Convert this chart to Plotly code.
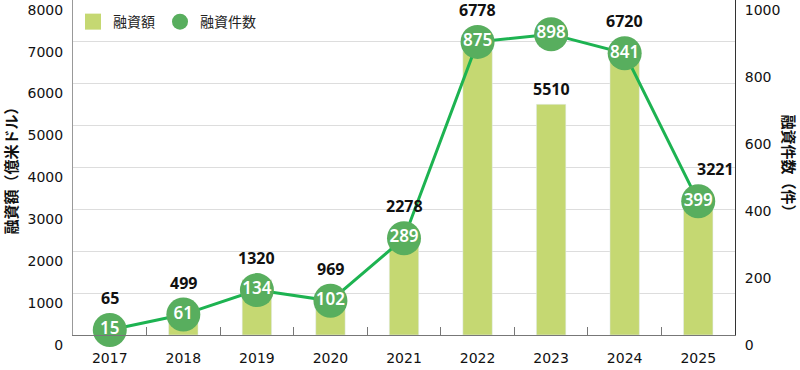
import plotly.graph_objects as go

years = ["2017", "2018", "2019", "2020", "2021", "2022", "2023", "2024", "2025"]
amount = [65, 499, 1320, 969, 2278, 6778, 5510, 6720, 3221]   # 融資額（億米ドル）
count = [15, 61, 134, 102, 289, 875, 898, 841, 399]           # 融資件数（件）
left_ticks = [0, 1000, 2000, 3000, 4000, 5000, 6000, 7000, 8000]
right_ticks = [0, 200, 400, 600, 800, 1000]

BAR_C = "#c5d872"
DOT_C = "#58ae5e"
LINE_C = "#1db351"
TICK_FONT = dict(family="DejaVu Sans", size=14, color="#111111")

fig = go.Figure()
fig.add_trace(go.Bar(x=years, y=amount, marker_color=BAR_C, width=0.4,
                     showlegend=False, hoverinfo="skip"))
fig.add_trace(go.Scatter(x=years, y=count, yaxis="y2", mode="lines+markers+text",
                         line=dict(color=LINE_C, width=3),
                         marker=dict(size=34, color=DOT_C),
                         text=[str(c) for c in count], textposition="middle center",
                         textfont=dict(family="Noto Sans", size=17, color="white", weight=600),
                         showlegend=False, cliponaxis=False))
# legend entries
fig.add_trace(go.Scatter(x=[years[0]], y=[None], mode="markers", name="融資額",
                         marker=dict(symbol="square", size=16, color=BAR_C)))
fig.add_trace(go.Scatter(x=[years[0]], y=[None], mode="markers", name="融資件数",
                         marker=dict(symbol="circle", size=16, color=DOT_C)))

# bar value labels: above the bar, or above the circle when the circle is in the way;
# nudged right when the incoming line would cross the label
ratio = left_ticks[-1] / right_ticks[-1]
px_units = left_ticks[-1] / 335
radius_units = 17 * px_units
label_units = 30 * px_units
for i, (a, c) in enumerate(zip(amount, count)):
    cy = c * ratio
    if cy - radius_units > a + label_units:
        top = a
    else:
        top = max(a, cy + radius_units)
    xshift = 0
    if i > 0:
        line_y = cy + (count[i - 1] * ratio - cy) * 0.26
        if top <= line_y <= top + label_units:
            xshift = 17
    fig.add_annotation(x=i, y=top, xref="x", yref="y", text=str(a), showarrow=False,
                       yanchor="middle", yshift=15, xshift=xshift,
                       font=dict(family="Noto Sans", size=16, color="#111111", weight=700))

fig.add_annotation(xref="paper", yref="paper", x=-0.095, y=0.5, text="融資額（億米ドル）",
                   textangle=-90, showarrow=False, xanchor="center", yanchor="middle",
                   font=dict(family="Noto Sans CJK JP", size=15, color="#111111", weight=700))
fig.add_annotation(xref="paper", yref="paper", x=1.083, y=0.5, text="融資件数（件）",
                   textangle=90, showarrow=False, xanchor="center", yanchor="middle",
                   font=dict(family="Noto Sans CJK JP", size=15, color="#111111", weight=700))

fig.update_layout(
    width=800, height=370,
    margin=dict(l=73, r=65, t=0, b=35),
    paper_bgcolor="white", plot_bgcolor="white",
    bargap=0.6,
    xaxis=dict(type="category", categoryorder="array", categoryarray=years,
               range=[-0.5, len(years) - 0.5], automargin=False,
               tickson="boundaries", ticks="inside", ticklen=8,
               tickcolor="#777777", showline=True, linecolor="#777777", linewidth=1,
               tickfont=TICK_FONT, showgrid=False, tickangle=0, ticklabelstandoff=10),
    yaxis=dict(range=[0, 8000], tickvals=left_ticks, showgrid=True, gridcolor="#dddddd",
               gridwidth=1, showline=True, linecolor="#999999", linewidth=1, zeroline=False,
               ticks="", tickfont=TICK_FONT, ticklabelposition="outside bottom",
               ticklabelstandoff=6, automargin=False),
    yaxis2=dict(range=[0, 1000], tickvals=right_ticks, overlaying="y", side="right",
                showgrid=False, showline=True, linecolor="#333333", linewidth=1,
                zeroline=False, ticks="", tickfont=TICK_FONT, automargin=False,
                ticklabelposition="outside bottom", ticklabelstandoff=6),
    legend=dict(orientation="h", x=0.0, y=0.982, xanchor="left", yanchor="top",
                font=dict(family="Noto Sans CJK JP", size=14, color="#222222"),
                bgcolor="rgba(0,0,0,0)", itemsizing="trace"),
    hovermode=False,
)

fig.write_html("out.html", config={"displayModeBar": False},
               post_script="document.body.style.margin='0';")
